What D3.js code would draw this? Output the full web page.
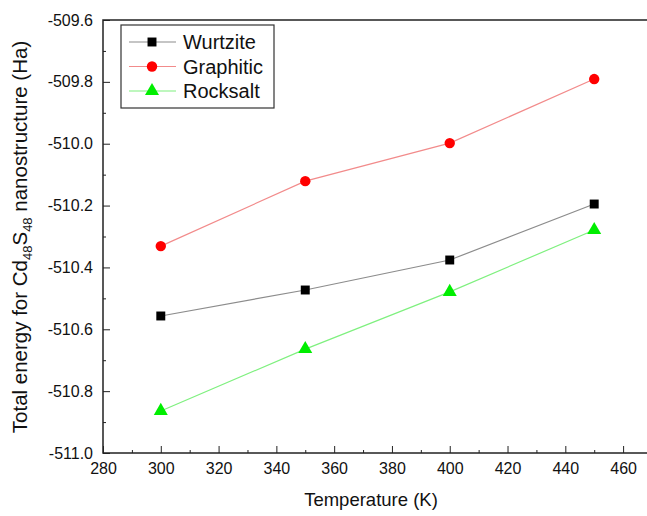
<!DOCTYPE html>
<html>
<head>
<meta charset="utf-8">
<script src="https://cdn.jsdelivr.net/npm/d3@7"></script>
<style>
  html, body { margin: 0; padding: 0; background: #fff; }
  svg { display: block; font-family: "Liberation Sans", Arial, sans-serif; }
</style>
</head>
<body>
<div id="chart"></div>
<script>
// 温度 (K)
const TEMPS = [300, 350, 400, 450];
// 各结构总能量 (Ha)
const WURTZITE = [-510.557, -510.473, -510.376, -510.195];
const GRAPHITIC = [-510.331, -510.121, -509.998, -509.791];
const ROCKSALT = [-510.864, -510.664, -510.479, -510.279];
const SERIES_NAMES = ["Wurtzite", "Graphitic", "Rocksalt"];
const X_TICKS = [280, 300, 320, 340, 360, 380, 400, 420, 440, 460];
const Y_TICKS = [-511.0, -510.8, -510.6, -510.4, -510.2, -510.0, -509.8, -509.6];

const W = 647, H = 516;
const m = { t: 20, r: -5, b: 63, l: 103 };
const iw = W - m.l - m.r, ih = H - m.t - m.b;

const svg = d3.select("#chart").append("svg").attr("width", W).attr("height", H);
const g = svg.append("g").attr("transform", `translate(${m.l},${m.t})`);

const x = d3.scaleLinear().domain([280, 470]).range([0, iw]);
const y = d3.scaleLinear().domain([-511.0, -509.6]).range([ih, 0]);

// 边框
g.append("rect").attr("width", iw).attr("height", ih)
  .attr("fill", "none").attr("stroke", "#222").attr("stroke-width", 1.5);

// x 轴：刻度朝内
const xMinor = d3.range(290, 470, 20);
g.append("g").attr("transform", `translate(0,${ih})`)
  .call(d3.axisBottom(x).tickValues(xMinor).tickSize(-3).tickFormat(""))
  .call(s => s.select(".domain").remove())
  .attr("color", "#222");
const gx = g.append("g").attr("transform", `translate(0,${ih})`)
  .call(d3.axisBottom(x).tickValues(X_TICKS).tickSize(-7).tickPadding(10).tickFormat(d3.format("d")))
  .attr("color", "#222").attr("font-family", "Liberation Sans, Arial, sans-serif").attr("font-size", 16);
gx.select(".domain").remove();
gx.selectAll("text").attr("fill", "#111");

// y 轴
const yMinor = d3.range(-510.9, -509.6, 0.2);
g.append("g")
  .call(d3.axisLeft(y).tickValues(yMinor).tickSize(-3).tickFormat(""))
  .call(s => s.select(".domain").remove())
  .attr("color", "#222");
const gy = g.append("g")
  .call(d3.axisLeft(y).tickValues(Y_TICKS).tickSize(-7).tickPadding(10).tickFormat(d3.format(".1f")))
  .attr("color", "#222").attr("font-family", "Liberation Sans, Arial, sans-serif").attr("font-size", 16);
gy.select(".domain").remove();
gy.selectAll("text").attr("fill", "#111").text(d => d3.format(".1f")(d).replace("−", "-"));

// 轴标题
svg.append("text").attr("x", 371).attr("y", 506)
  .attr("text-anchor", "middle").attr("font-size", 18.5).attr("fill", "#111")
  .text("Temperature (K)");
const yt = svg.append("text")
  .attr("transform", `translate(27,237) rotate(-90)`)
  .attr("text-anchor", "middle").attr("font-size", 20.5).attr("fill", "#111");
yt.append("tspan").text("Total energy for Cd");
yt.append("tspan").attr("font-size", 13).attr("dy", 5).text("48");
yt.append("tspan").attr("dy", -5).text("S");
yt.append("tspan").attr("font-size", 13).attr("dy", 5).text("48");
yt.append("tspan").attr("dy", -5).text(" nanostructure (Ha)");

const styles = [
  { line: "#8c8c8c", fill: "#000", sym: d3.symbolSquare, size: 80 },
  { line: "#f28b8b", fill: "#ff0000", sym: d3.symbolCircle, size: 85 },
  { line: "#7ff07f", fill: "#00ee00", sym: d3.symbolTriangle, size: 85 }
];
const data = [WURTZITE, GRAPHITIC, ROCKSALT];
const line = d3.line().x((d, i) => x(TEMPS[i])).y(d => y(d));

data.forEach((vals, k) => {
  const st = styles[k];
  g.append("path").datum(vals).attr("fill", "none").attr("stroke", st.line)
    .attr("stroke-width", 1.2).attr("d", line);
  g.selectAll(null).data(vals).enter().append("path")
    .attr("transform", (d, i) => `translate(${x(TEMPS[i])},${y(d)})`)
    .attr("d", d3.symbol().type(st.sym).size(st.size)).attr("fill", st.fill);
});

// 图例
const lg = svg.append("g").attr("transform", "translate(121,25)");
lg.append("rect").attr("width", 153).attr("height", 83)
  .attr("fill", "#fff").attr("stroke", "#333").attr("stroke-width", 1.2);
SERIES_NAMES.forEach((name, k) => {
  const st = styles[k];
  const yy = 17 + k * 24.5;
  lg.append("line").attr("x1", 8).attr("x2", 55).attr("y1", yy).attr("y2", yy)
    .attr("stroke", st.line).attr("stroke-width", 1.2);
  lg.append("path").attr("transform", `translate(31,${yy})`)
    .attr("d", d3.symbol().type(st.sym).size(st.size)).attr("fill", st.fill);
  lg.append("text").attr("x", 62).attr("y", yy + 7).attr("font-size", 20).attr("fill", "#111").text(name);
});
</script>
</body>
</html>
